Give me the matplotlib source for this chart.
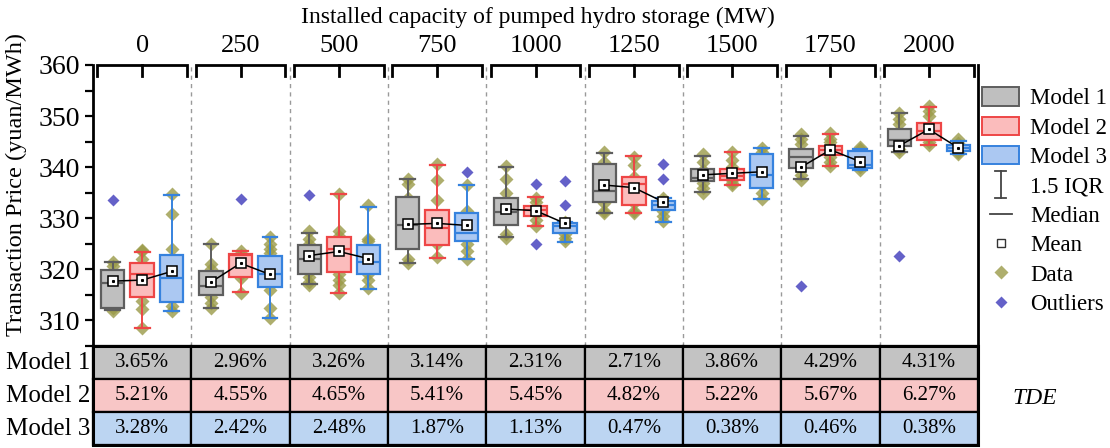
import matplotlib
matplotlib.use("Agg")
import matplotlib.pyplot as plt
from matplotlib.patches import Rectangle, Patch
from matplotlib.lines import Line2D
from matplotlib.legend_handler import HandlerBase

plt.rcParams['font.family'] = ['Liberation Serif', 'DejaVu Serif']
plt.rcParams['mathtext.fontset'] = 'stix'

CAPACITY = ['0', '250', '500', '750', '1000', '1250', '1500', '1750', '2000']
MODELS = ['Model 1', 'Model 2', 'Model 3']

# box statistics per model (q1, median, q3, whisker ends, mean)
Q1_M1 = [312.4, 315.0, 319.1, 324.0, 328.7, 333.1, 337.3, 339.9, 344.1]
MED_M1 = [317.4, 316.8, 322.1, 328.6, 331.2, 335.4, 337.9, 341.9, 345.4]
Q3_M1 = [319.9, 319.6, 324.8, 334.2, 333.9, 340.7, 339.7, 343.6, 347.5]
WLO_M1 = [312.0, 312.5, 317.1, 321.2, 326.3, 331.0, 335.1, 337.7, 343.0]
WHI_M1 = [321.5, 325.0, 327.2, 337.6, 340.0, 342.8, 342.2, 346.2, 350.6]
MEAN_M1 = [317.7, 317.5, 322.7, 328.8, 331.8, 336.5, 338.5, 340.0, 344.2]

Q1_M2 = [314.5, 318.6, 319.4, 324.8, 330.5, 332.5, 337.4, 342.3, 345.3]
MED_M2 = [319.1, 322.8, 324.0, 328.1, 331.6, 336.8, 338.2, 343.3, 347.0]
Q3_M2 = [321.2, 323.1, 326.3, 331.6, 332.4, 338.1, 339.6, 344.1, 348.7]
WLO_M2 = [308.6, 315.5, 315.3, 322.3, 328.4, 331.0, 336.6, 340.2, 344.3]
WHI_M2 = [323.4, 323.5, 334.8, 340.5, 334.2, 342.2, 342.9, 346.4, 351.8]
MEAN_M2 = [317.9, 321.2, 323.5, 329.0, 331.5, 336.0, 338.8, 343.4, 347.4]

Q1_M3 = [313.6, 316.6, 319.1, 325.6, 327.2, 331.6, 336.0, 339.9, 343.2]
MED_M3 = [318.3, 319.1, 321.4, 327.2, 328.4, 332.5, 338.4, 340.4, 343.8]
Q3_M3 = [322.9, 322.6, 324.8, 331.0, 329.1, 333.3, 342.5, 343.1, 344.3]
WLO_M3 = [311.9, 310.5, 316.2, 322.1, 325.4, 329.2, 333.8, 339.4, 342.6]
WHI_M3 = [334.5, 326.3, 332.2, 336.6, 329.3, 334.0, 343.7, 343.6, 345.1]
MEAN_M3 = [319.6, 319.0, 322.1, 328.6, 329.0, 333.2, 339.1, 341.1, 343.8]

# individual samples
DATA_M1 = [
    [321.5, 320.6, 319.0, 317.0, 314.5, 312.4, 311.8],
    [325.0, 321.1, 320.0, 317.0, 315.9, 314.6, 313.5, 312.4],
    [327.5, 326.0, 325.0, 322.0, 319.5, 318.5, 317.5, 317.0],
    [337.6, 336.8, 334.0, 329.0, 325.0, 322.0, 321.3],
    [340.2, 337.6, 335.0, 332.5, 330.0, 327.0, 326.2],
    [343.0, 341.0, 337.0, 334.0, 333.0, 331.5, 331.0],
    [342.5, 341.0, 339.5, 338.0, 337.0, 336.0, 335.0],
    [346.5, 345.5, 344.5, 342.0, 340.0, 338.5, 337.5],
    [350.7, 349.5, 348.5, 346.0, 344.5, 343.5, 343.0],
]
DATA_M2 = [
    [323.8, 323.5, 322.0, 320.0, 315.8, 313.8, 312.2, 308.5],
    [323.6, 322.8, 321.5, 319.0, 318.3, 315.3],
    [334.8, 327.5, 326.5, 324.5, 321.0, 319.0, 318.0, 317.0, 315.4],
    [340.7, 337.5, 333.5, 330.0, 326.0, 325.0, 322.5],
    [334.0, 333.2, 331.8, 331.0, 329.7, 328.5],
    [342.0, 340.5, 338.0, 336.0, 333.0, 331.5, 331.0],
    [343.0, 341.5, 340.0, 339.0, 337.5, 337.0, 336.6],
    [346.6, 345.5, 345.0, 343.5, 342.0, 341.0, 340.2],
    [352.0, 351.0, 350.0, 348.0, 346.0, 345.0, 344.4],
]
DATA_M3 = [
    [334.7, 330.9, 323.9, 320.0, 316.0, 312.8, 311.8],
    [326.3, 325.0, 324.0, 323.3, 320.0, 316.0, 312.5, 310.5],
    [332.5, 326.0, 325.5, 323.0, 320.0, 319.0, 318.0, 316.4],
    [336.6, 331.5, 329.0, 327.0, 325.0, 323.5, 322.1],
    [329.3, 328.8, 328.0, 327.0, 326.2, 325.6],
    [334.0, 333.4, 332.5, 331.5, 330.5, 329.5],
    [343.8, 343.0, 340.0, 338.0, 336.5, 335.0, 333.8],
    [344.0, 343.5, 342.0, 340.5, 340.0, 339.5],
    [345.5, 344.8, 344.0, 343.5, 343.0, 342.6],
]

OUT_M1 = [[333.5], [], [334.5], [], [], [], [], [316.8], [322.7]]
OUT_M2 = [[], [333.8], [], [], [336.8, 325.0], [], [], [], []]
OUT_M3 = [[], [], [], [339.0], [337.3, 332.6], [340.7, 337.7], [], [], []]

TDE_M1 = [3.65, 2.96, 3.26, 3.14, 2.31, 2.71, 3.86, 4.29, 4.31]
TDE_M2 = [5.21, 4.55, 4.65, 5.41, 5.45, 4.82, 5.22, 5.67, 6.27]
TDE_M3 = [3.28, 2.42, 2.48, 1.87, 1.13, 0.47, 0.38, 0.46, 0.38]

FACE = ['#bfbfbf', '#fbbcbc', '#abc8f2']
EDGE = ['#5e5e5e', '#ee4646', '#3682de']
CELL = ['#c3c3c3', '#f8c6c6', '#bcd5f2']
DATA_C = '#9a9a48'
OUT_C = '#6461c8'

W, H = 1110, 448
fig = plt.figure(figsize=(W / 100, H / 100), dpi=100)
ax = fig.add_axes([93 / W, 102 / H, 885 / W, 281 / H])

offsets = [-0.3, 0.0, 0.3]
box_sets = [
    (Q1_M1, MED_M1, Q3_M1, WLO_M1, WHI_M1, MEAN_M1, DATA_M1, OUT_M1),
    (Q1_M2, MED_M2, Q3_M2, WLO_M2, WHI_M2, MEAN_M2, DATA_M2, OUT_M2),
    (Q1_M3, MED_M3, Q3_M3, WLO_M3, WHI_M3, MEAN_M3, DATA_M3, OUT_M3),
]

for m, (q1, med, q3, wlo, whi, mean, data, out) in enumerate(box_sets):
    pos = [g + offsets[m] for g in range(len(CAPACITY))]
    stats = [dict(q1=q1[g], med=med[g], q3=q3[g], whislo=wlo[g], whishi=whi[g],
                  mean=mean[g], fliers=[]) for g in range(len(CAPACITY))]
    ax.bxp(stats, positions=pos, widths=0.24, patch_artist=True, showfliers=False,
           showmeans=False, capwidths=0.15, manage_ticks=False, zorder=3,
           boxprops=dict(facecolor=FACE[m], edgecolor=EDGE[m], linewidth=1.6),
           whiskerprops=dict(color=EDGE[m], linewidth=1.4),
           capprops=dict(color=EDGE[m], linewidth=1.6),
           medianprops=dict(color=EDGE[m], linewidth=1.6))
    for g in range(len(CAPACITY)):
        ax.plot([pos[g]] * len(data[g]), data[g], ls='none', marker='D', ms=7,
                color=DATA_C, alpha=0.8, mec='none', zorder=2)
        if out[g]:
            ax.plot([pos[g]] * len(out[g]), out[g], ls='none', marker='D', ms=6.5,
                    color=OUT_C, mec='none', zorder=4)

# mean markers joined within each capacity group
means = [MEAN_M1, MEAN_M2, MEAN_M3]
for g in range(len(CAPACITY)):
    xs = [g + o for o in offsets]
    ys = [mm[g] for mm in means]
    ax.plot(xs, ys, color='black', lw=1.1, zorder=5)
    ax.plot(xs, ys, ls='none', marker='s', ms=7, mfc='white', mec='black', mew=1.1, zorder=6)
    ax.plot(xs, ys, ls='none', marker='s', ms=1.2, mfc='black', mec='black', zorder=7)

for g in range(len(CAPACITY) - 1):
    ax.axvline(g + 0.5, color='#9a9a9a', lw=1, ls=(0, (3, 3)), zorder=1)

ax.set_xlim(-0.5, len(CAPACITY) - 0.5)
ax.set_ylim(305, 360)
ax.set_yticks(range(310, 361, 10))
ax.set_yticks(range(305, 361, 5), minor=True)
ax.tick_params(axis='y', which='both', direction='out', length=6, width=1.6, labelsize=20)
ax.set_xticks([])
ax.spines['top'].set_visible(False)
for s in ['left', 'right', 'bottom']:
    ax.spines[s].set_linewidth(2)
ax.set_ylabel('Transaction Price (yuan/MWh)', fontsize=17.5)
ax.yaxis.set_label_coords(-0.075, 0.575)

# bracket along the top for every capacity group
trans = ax.get_xaxis_transform()
for g, lab in enumerate(CAPACITY):
    ax.plot([g - 0.455, g - 0.455, g + 0.455, g + 0.455], [0.96, 1, 1, 0.96],
            color='black', lw=2, transform=trans, clip_on=False, solid_joinstyle='miter')
    ax.plot([g, g], [1, 0.96], color='black', lw=2, transform=trans, clip_on=False)
    ax.text(g, 1.068, lab, transform=trans, ha='center', va='center', fontsize=19)

fig.text(0.485, 0.962, 'Installed capacity of pumped hydro storage (MW)',
         ha='center', va='center', fontsize=17)

# TDE table underneath
tab = fig.add_axes([93 / W, 3 / H, 885 / W, 99 / H])
tab.set_xlim(-0.5, len(CAPACITY) - 0.5)
tab.set_ylim(3, 0)
tab.axis('off')
for r, vals in enumerate([TDE_M1, TDE_M2, TDE_M3]):
    for g, v in enumerate(vals):
        tab.add_patch(Rectangle((g - 0.5, r), 1, 1, facecolor=CELL[r], edgecolor='black',
                                lw=1.6, clip_on=False))
        tab.text(g, r + 0.5, f'{v:.2f}%', ha='center', va='center', fontsize=15)
    tab.text(-0.53, r + 0.5, MODELS[r], ha='right', va='center', fontsize=18)
tab.add_patch(Rectangle((-0.5, 0), len(CAPACITY), 3, fill=False, edgecolor='black',
                        lw=2.2, clip_on=False))
fig.text(1035 / W, 1 - 398 / H, 'TDE', ha='center', va='center', fontsize=17, style='italic')


class IQRHandler(HandlerBase):
    def create_artists(self, legend, orig_handle, xdescent, ydescent, width, height,
                       fontsize, trans):
        cx = width / 2 - xdescent
        y0, y1 = -ydescent - 0.25 * height, height * 1.25 - ydescent
        cw = width * 0.15
        return [Line2D([cx, cx], [y0, y1], color='#444444', lw=1.3, transform=trans),
                Line2D([cx - cw, cx + cw], [y0, y0], color='#444444', lw=1.3, transform=trans),
                Line2D([cx - cw, cx + cw], [y1, y1], color='#444444', lw=1.3, transform=trans)]


class MedianHandler(HandlerBase):
    def create_artists(self, legend, orig_handle, xdescent, ydescent, width, height,
                       fontsize, trans):
        cy = height / 2 - ydescent
        return [Line2D([width * 0.2 - xdescent, width * 0.8 - xdescent], [cy, cy],
                       color='#444444', lw=1.3, transform=trans)]


handles = [Patch(facecolor=FACE[m], edgecolor=EDGE[m], lw=1.4) for m in range(3)]
iqr = Line2D([], [])
med_h = Line2D([], [])
handles += [iqr, med_h,
            Line2D([], [], ls='none', marker='s', ms=5.5, mfc='white', mec='#333333', mew=1),
            Line2D([], [], ls='none', marker='D', ms=7, color=DATA_C, alpha=0.8, mec='none'),
            Line2D([], [], ls='none', marker='D', ms=6.5, color=OUT_C, mec='none')]
labels = MODELS + ['1.5 IQR', 'Median', 'Mean', 'Data', 'Outliers']
fig.legend(handles, labels, loc='upper left', bbox_to_anchor=(0.885, 0.805), frameon=False,
           fontsize=16.5, handlelength=1.6, handleheight=0.85, labelspacing=0.32,
           handletextpad=0.5, borderaxespad=0, borderpad=0,
           handler_map={iqr: IQRHandler(), med_h: MedianHandler()})

fig.savefig('out.png', dpi=100)
